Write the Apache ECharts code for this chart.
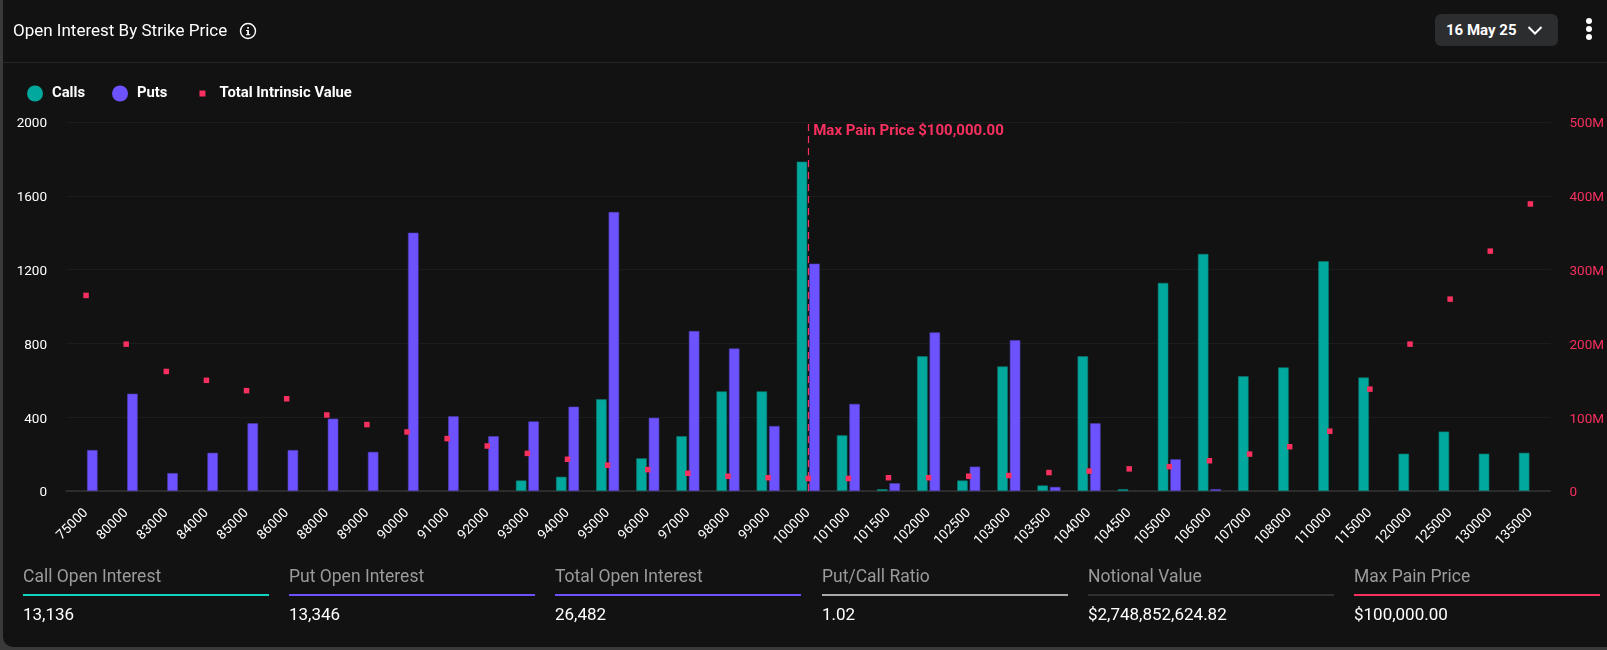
<!DOCTYPE html>
<html>
<head>
<meta charset="utf-8" />
<title>Open Interest By Strike Price</title>
<style type="text/css">
    html, body {margin: 0; width: 100%; height: 100%; overflow: hidden; background: #3a3a3a; font-family: Roboto, sans-serif; color: #fff;}
    #card {position: absolute; left: 3px; top: 0; width: 1604px; height: 647px; background: #121212; border-radius: 0 0 0 10px;}
    #map {position: absolute; left: 0; top: 0; width: 1607px; height: 650px;}
    .abs {position: absolute; white-space: nowrap;}
    #title {left: 13px; top: 20px; font-size: 17px; line-height: 20px;}
    #rule {left: 3px; top: 62px; width: 1604px; height: 1px; background: #262626;}
    #btn {left: 1435px; top: 14px; width: 123px; height: 32px; background: #2c2d2f; border-radius: 6px;}
    #btnText {left: 1446px; top: 20px; font-size: 15px; line-height: 20px; font-weight: 700;}
    .dot {position: absolute; left: 1586px; width: 6px; height: 6px; border-radius: 3px; background: #fff;}
    .stLabel {font-size: 17.5px; line-height: 20px; color: #9b9b9b;}
    .stLine {height: 2px; width: 246px;}
    .stValue {font-size: 17px; line-height: 20px;}
</style>
</head>
<body>
<div id="card"></div>
<div id="map"></div>
<div class="abs" id="title">Open Interest By Strike Price</div>
<svg class="abs" style="left:239px;top:22px" width="18" height="18" viewBox="0 0 18 18">
    <circle cx="9" cy="9" r="7.5" fill="none" stroke="#fff" stroke-width="1.4"/>
    <rect x="8.2" y="8" width="1.7" height="5" fill="#fff"/>
    <rect x="8.2" y="5" width="1.7" height="1.7" fill="#fff"/>
    <rect x="7" y="8" width="2" height="1" fill="#fff"/>
    <rect x="7" y="12.2" width="4.2" height="1" fill="#fff"/>
</svg>
<div class="abs" id="rule"></div>
<div class="abs" id="btn"></div>
<div class="abs" id="btnText">16 May 25</div>
<svg class="abs" style="left:1527px;top:25px" width="16" height="11" viewBox="0 0 16 11">
    <path d="M1.5 2 L8 8.5 L14.5 2" fill="none" stroke="#fff" stroke-width="2"/>
</svg>
<div class="dot" style="top:18px"></div>
<div class="dot" style="top:26px"></div>
<div class="dot" style="top:34px"></div>
<div id="stats"></div>

<script src="https://cdn.jsdelivr.net/npm/echarts@6/dist/echarts.min.js"></script>
<script type="text/javascript">
    var strikes = ['75000','80000','83000','84000','85000','86000','88000','89000','90000','91000','92000','93000','94000','95000','96000','97000','98000','99000','100000','101000','101500','102000','102500','103000','103500','104000','104500','105000','106000','107000','108000','110000','115000','120000','125000','130000','135000'];
    var calls = [null,null,null,null,null,null,null,null,null,null,null,57,77,497,177,297,540,540,1785,302,10,730,57,675,30,730,10,1128,1285,622,670,1245,615,202,322,202,207];
    var puts = [222,527,97,207,367,222,392,212,1400,405,297,377,457,1512,397,867,772,352,1232,472,42,860,132,817,22,367,null,172,10,null,null,null,null,null,null,null,null];
    var intrinsic = [265,199,162,150,136,125,103,90,80,71,61,51,43,35,29,24,20,18,17,17,18,18,20,21,25,27,30,33,41,50,60,81,138,199,260,325,389];
    var leftTicks = [0,400,800,1200,1600,2000];
    var maxPainStrike = '100000';

    var statLabels = ['Call Open Interest','Put Open Interest','Total Open Interest','Put/Call Ratio','Notional Value','Max Pain Price'];
    var statValues = ['13,136','13,346','26,482','1.02','$2,748,852,624.82','$100,000.00'];
    var statColors = ['#10d2bd','#6c53ff','#6c53ff','#a8a8a8','#303030','#f7305f'];
    var statLeft = [23,289,555,822,1088,1354];

    var html = '';
    statLabels.forEach(function (name, i) {
        html += '<div class="abs stLabel" style="left:' + statLeft[i] + 'px;top:566px">' + name + '</div>';
        html += '<div class="abs stLine" style="left:' + statLeft[i] + 'px;top:594px;background:' + statColors[i] + '"></div>';
        html += '<div class="abs stValue" style="left:' + statLeft[i] + 'px;top:604px">' + statValues[i] + '</div>';
    });
    document.getElementById('stats').innerHTML = html;

    var myChart = echarts.init(document.getElementById('map'));
    myChart.setOption({
        animation: false,
        backgroundColor: 'transparent',
        textStyle: {fontFamily: 'Roboto'},
        legend: {
            left: 27,
            top: 85.5,
            padding: 0,
            itemWidth: 16,
            itemHeight: 16,
            itemGap: 27,
            itemStyle: {borderWidth: 0},
            textStyle: {color: '#fff', fontSize: 14.8, fontWeight: 700, fontFamily: 'Roboto', padding: [0, 0, 0, 4]},
            data: [
                {name: 'Calls', icon: 'circle'},
                {name: 'Puts', icon: 'circle'},
                {name: 'Total Intrinsic Value', icon: 'path://M0 0L0 0M16 16L16 16M5 5H11V11H5Z'}
            ]
        },
        grid: {left: 66, right: 53, top: 122, bottom: 159},
        xAxis: {
            type: 'category',
            data: strikes,
            axisTick: {show: false},
            axisLine: {lineStyle: {color: '#333', width: 1.5}},
            axisLabel: {color: '#fff', fontSize: 13.5, rotate: 45, interval: 0, margin: 20, fontFamily: 'Roboto'}
        },
        yAxis: [{
            type: 'value',
            min: 0,
            max: leftTicks[leftTicks.length - 1],
            interval: 400,
            axisLine: {show: false},
            axisTick: {show: false},
            axisLabel: {
                color: '#fff', fontSize: 13.5, margin: 19, fontFamily: 'Roboto', verticalAlign: 'top', lineHeight: 4,
                formatter: function (v) { return String(v); }
            },
            splitLine: {lineStyle: {color: '#1c1c1c'}}
        }, {
            type: 'value',
            min: 0,
            max: 500,
            interval: 100,
            axisLine: {show: false},
            axisTick: {show: false},
            axisLabel: {
                color: '#f7305f', fontSize: 13.5, margin: 19, fontFamily: 'Roboto', verticalAlign: 'top', lineHeight: 4,
                formatter: function (v) { return v === 0 ? '0' : v + 'M'; }
            },
            splitLine: {show: false}
        }],
        series: [{
            name: 'Calls',
            type: 'bar',
            data: calls,
            barWidth: 10.5,
            barGap: '19%',
            itemStyle: {color: '#00a89d', borderColor: '#0a7a73', borderWidth: 0.6}
        }, {
            name: 'Puts',
            type: 'bar',
            data: puts,
            barWidth: 10.5,
            barGap: '19%',
            itemStyle: {color: '#6c53ff', borderColor: '#4f3fb8', borderWidth: 0.6}
        }, {
            name: 'Total Intrinsic Value',
            type: 'scatter',
            yAxisIndex: 1,
            data: intrinsic,
            symbol: 'rect',
            symbolSize: 5.5,
            z: 5,
            itemStyle: {color: '#f7305f', opacity: 1},
            markLine: {
                silent: true,
                symbol: 'none',
                animation: false,
                lineStyle: {color: '#f7305f', type: [7, 5], width: 1.2},
                label: {
                    show: true,
                    position: 'insideEndBottom',
                    rotate: 0,
                    align: 'left',
                    verticalAlign: 'middle',
                    distance: 0,
                    offset: [5, 9],
                    color: '#f7305f',
                    fontSize: 15,
                    fontWeight: 700,
                    fontFamily: 'Roboto',
                    formatter: 'Max Pain Price $100,000.00'
                },
                data: [{xAxis: maxPainStrike}]
            }
        }]
    });
</script>
</body>
</html>
